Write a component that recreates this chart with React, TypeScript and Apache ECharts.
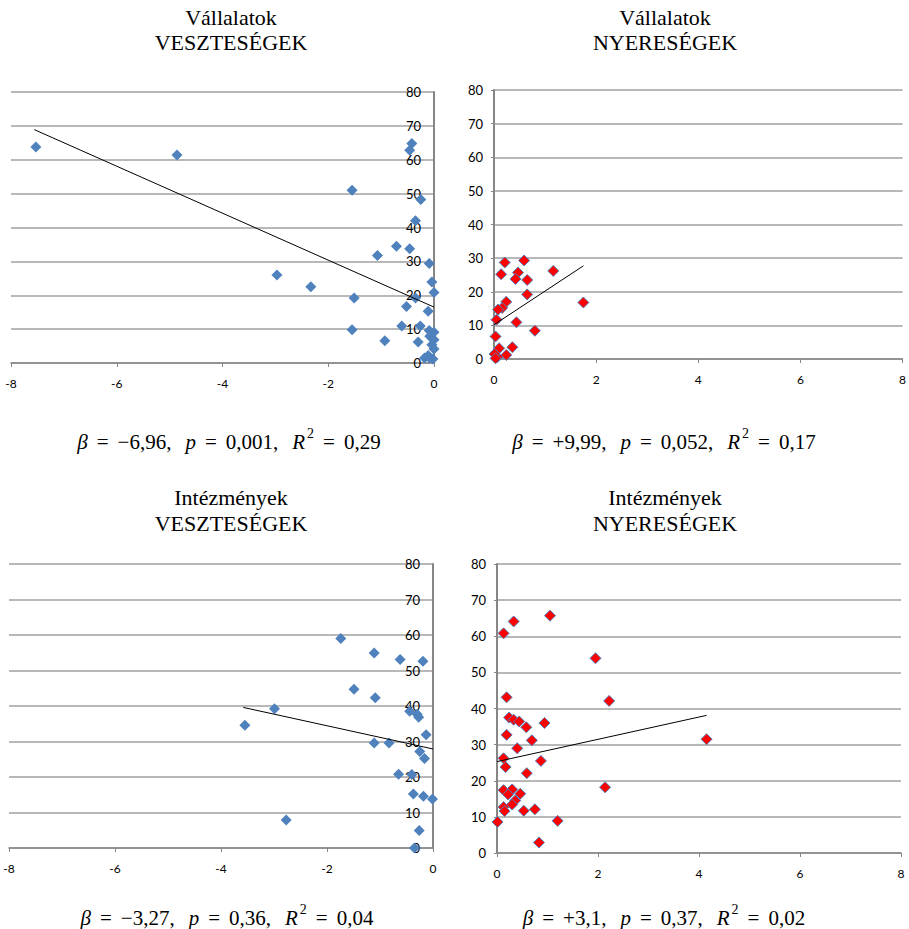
import React, { useEffect, useRef } from "react";
import * as echarts from "echarts";

// ---- Data ----
const titlesTop = ["Vállalatok", "Vállalatok", "Intézmények", "Intézmények"];
const titlesBottom = ["VESZTESÉGEK", "NYERESÉGEK", "VESZTESÉGEK", "NYERESÉGEK"];

// Vállalatok – veszteségek (x, y)
const vallLossX = [-7.53, -4.86, -1.55, -0.42, -0.46, -0.25, -0.35, -0.71, -0.46, -1.07, -0.09, -2.97, -2.33, -0.04, 0.0, -1.51, -0.35, -0.52, -0.11, -1.55, -0.61, -0.26, -0.93, -0.3, -0.09, 0.0, -0.08, 0.0, -0.04, 0.0, -0.18, -0.08, -0.02, -0.11];
const vallLossY = [63.8, 61.4, 51.0, 64.8, 62.8, 48.3, 42.0, 34.5, 33.7, 31.7, 29.4, 26.0, 22.5, 23.9, 20.8, 19.2, 19.2, 16.7, 15.3, 9.8, 10.9, 10.9, 6.6, 6.2, 9.6, 9.1, 7.9, 6.9, 5.4, 4.1, 1.5, 1.5, 1.2, 2.2];
const vallLossTrend = [[-7.56, 68.9], [0, 16.5]];

// Vállalatok – nyereségek
const vallGainX = [0.21, 0.59, 0.14, 0.47, 0.42, 0.65, 1.16, 0.65, 0.24, 0.16, 0.08, 1.75, 0.05, 0.44, 0.8, 0.03, 0.1, 0.36, 0.24, 0.07, 0.01, 0.03];
const vallGainY = [28.7, 29.3, 25.2, 25.7, 23.8, 23.5, 26.2, 19.2, 17.0, 15.2, 14.7, 16.8, 11.7, 10.9, 8.4, 6.7, 3.2, 3.5, 1.2, 0.6, 1.5, 0.2];
const vallGainTrend = [[0, 10.2], [1.75, 27.7]];

// Intézmények – veszteségek
const intLossX = [-1.74, -1.11, -0.62, -0.19, -1.49, -1.09, -2.99, -3.55, -0.44, -0.3, -0.27, -0.13, -1.11, -0.83, -0.25, -0.16, -0.65, -0.4, -0.37, -0.18, -0.01, -2.77, -0.26, -0.35];
const intLossY = [59.0, 54.9, 53.1, 52.6, 44.7, 42.3, 39.2, 34.6, 38.5, 37.7, 36.8, 31.9, 29.6, 29.6, 27.2, 25.2, 20.8, 20.7, 15.2, 14.6, 13.8, 7.9, 4.9, 0.0];
const intLossTrend = [[-3.58, 39.6], [0, 27.9]];

// Intézmények – nyereségek
const intGainX = [1.05, 0.33, 0.13, 1.95, 0.19, 2.22, 0.24, 0.33, 0.44, 0.94, 0.58, 0.19, 0.69, 4.15, 0.4, 0.13, 0.17, 0.87, 0.59, 2.14, 0.13, 0.3, 0.46, 0.22, 0.36, 0.13, 0.3, 0.15, 0.53, 0.75, 0.01, 1.2, 0.83];
const intGainY = [65.7, 64.1, 60.8, 53.9, 43.1, 42.1, 37.5, 36.9, 36.4, 36.0, 34.8, 32.7, 31.2, 31.5, 29.0, 26.2, 23.8, 25.5, 22.1, 18.2, 17.4, 17.6, 16.4, 16.2, 14.5, 12.7, 13.4, 11.6, 11.7, 12.1, 8.6, 8.9, 2.9];
const intGainTrend = [[0, 25.3], [4.15, 38.1]];

const captionBeta = ["−6,96,", "+9,99,", "−3,27,", "+3,1,"];
const captionP = ["0,001,", "0,052,", "0,36,", "0,37,"];
const captionR2 = ["0,29", "0,17", "0,04", "0,02"];

const xTicksLoss = { min: -8, max: 0, interval: 2 };
const xTicksGain = { min: 0, max: 8, interval: 2 };
const yTicks = { min: 0, max: 80, interval: 10 };

const BLUE = "#4F81BD";
const RED = "#FF0000";
const AXIS = "#868686";
const GRID = "#A0A0A0";
const LABEL_FONT = "Lato, 'Open Sans', sans-serif";
const SERIF = "'Liberation Serif', 'DejaVu Serif', serif";

const zip = (xs: number[], ys: number[]) => xs.map((x, i) => [x, ys[i]]);

export default function App() {
  const ref = useRef<HTMLDivElement>(null);

  useEffect(() => {
    if (!ref.current) return;
    const chart = echarts.init(ref.current, undefined, { renderer: "svg" });

    const grids = [
      { left: 11, top: 92, width: 423, height: 271 },
      { left: 494, top: 90, width: 409, height: 269 },
      { left: 9, top: 564, width: 424, height: 284 },
      { left: 497, top: 564, width: 404, height: 289 },
    ];
    const isLoss = [true, false, true, false];

    const xAxes = grids.map((_, i) => ({
      type: "value",
      gridIndex: i,
      ...(isLoss[i] ? xTicksLoss : xTicksGain),
      axisLine: { show: true, onZero: false, lineStyle: { color: AXIS, width: 1.5 } },
      axisTick: { show: true, length: 4, lineStyle: { color: AXIS } },
      splitLine: { show: false },
      axisLabel: { fontSize: 12, color: "#000", fontFamily: LABEL_FONT, margin: 14 },
    }));

    const yAxes = grids.map((_, i) => ({
      type: "value",
      gridIndex: i,
      ...yTicks,
      position: isLoss[i] ? "right" : "left",
      axisLine: { show: true, onZero: false, lineStyle: { color: AXIS, width: 2 } },
      axisTick: { show: !isLoss[i], length: 3, lineStyle: { color: AXIS } },
      splitLine: { show: true, lineStyle: { color: GRID, width: 1.5 } },
      axisLabel: {
        inside: isLoss[i],
        fontSize: 13,
        color: "#000",
        fontFamily: LABEL_FONT,
        margin: isLoss[i] ? 13 : 11,
      },
    }));

    const scatterData = [
      zip(vallLossX, vallLossY),
      zip(vallGainX, vallGainY),
      zip(intLossX, intLossY),
      zip(intGainX, intGainY),
    ];
    const trends = [vallLossTrend, vallGainTrend, intLossTrend, intGainTrend];

    const series: any[] = [];
    scatterData.forEach((d, i) => {
      series.push({
        type: "scatter",
        xAxisIndex: i,
        yAxisIndex: i,
        data: d,
        symbol: "diamond",
        symbolSize: 11,
        clip: false,
        itemStyle: isLoss[i]
          ? { color: BLUE, opacity: 1 }
          : { color: RED, borderColor: BLUE, borderWidth: 1, opacity: 1 },
        z: 3,
      });
      series.push({
        type: "line",
        xAxisIndex: i,
        yAxisIndex: i,
        data: trends[i],
        showSymbol: false,
        symbol: "none",
        lineStyle: { color: "#000", width: 1 },
        z: 4,
      });
    });

    const titleCenters = [231, 665, 231, 665];
    const titleY1 = [17, 17, 497, 497];
    const titleY2 = [42, 42, 523, 523];
    const captionX = [229, 664, 227, 664];
    const captionY = [439, 439, 915, 915];

    const base = { fontFamily: SERIF, fontSize: 21, lineHeight: 26, verticalAlign: "bottom" };
    const graphic: any[] = [];
    for (let i = 0; i < 4; i++) {
      graphic.push({
        type: "text",
        x: titleCenters[i],
        y: titleY1[i],
        style: { text: titlesTop[i], font: `22px ${SERIF}`, fill: "#000", align: "center", verticalAlign: "middle" },
      });
      graphic.push({
        type: "text",
        x: titleCenters[i],
        y: titleY2[i],
        style: { text: titlesBottom[i], font: `22px ${SERIF}`, fill: "#000", align: "center", verticalAlign: "middle" },
      });
      graphic.push({
        type: "text",
        x: captionX[i],
        y: captionY[i],
        style: {
          text: `{i|β}{e|=}{c|${captionBeta[i]}}{i|p}{e|=}{c|${captionP[i]}}{r|R}{s|2}{e|=}{n|${captionR2[i]}}`,
          align: "center",
          verticalAlign: "middle",
          fill: "#000",
          rich: {
            i: { ...base, fontStyle: "italic" },
            r: { ...base, fontStyle: "italic", padding: [0, 1, 0, 0] },
            e: { ...base, padding: [0, 9, 0, 9] },
            c: { ...base, padding: [0, 14, 0, 0] },
            n: { ...base },
            s: { fontFamily: SERIF, fontSize: 14, lineHeight: 26, verticalAlign: "top", padding: [0, 0, 0, 1] },
          },
        },
      });
    }

    chart.setOption({
      animation: false,
      backgroundColor: "#fff",
      grid: grids,
      xAxis: xAxes,
      yAxis: yAxes,
      series,
      graphic,
    });

    return () => chart.dispose();
  }, []);

  return (
    <div
      ref={ref}
      style={{ position: "fixed", left: 0, top: 0, width: 909, height: 929, background: "#fff" }}
    />
  );
}
